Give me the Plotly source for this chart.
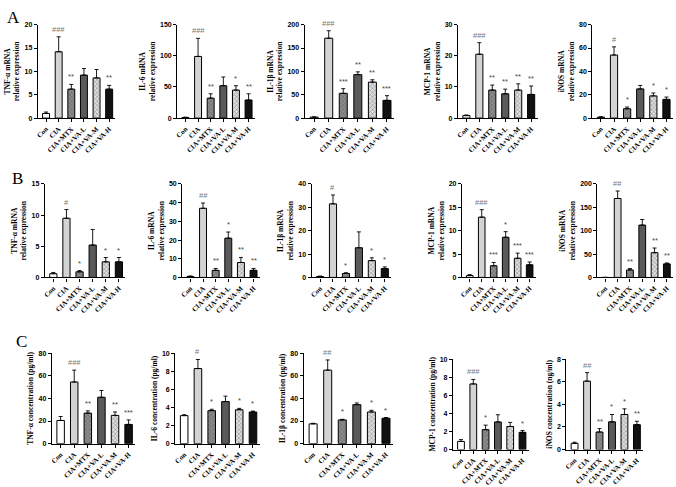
import plotly.graph_objects as go
from plotly.subplots import make_subplots

cats = ["Con", "CIA", "CIA+MTX", "CIA+VA-L", "CIA+VA-M", "CIA+VA-H"]

# Row A - mRNA (first set)
a_tnf = [1.0, 14.2, 6.2, 9.2, 8.6, 6.2]
a_tnf_sd = [0.3, 3.2, 1.0, 1.4, 1.8, 0.8]
a_tnf_sig = ["", "###", "**", "", "", "**"]

a_il6 = [1.0, 99, 32, 52, 45, 29]
a_il6_sd = [0.5, 29, 7, 14, 7, 10]
a_il6_sig = ["", "###", "**", "", "*", "**"]

a_il1b = [2, 171, 53, 93, 77, 38]
a_il1b_sd = [0.5, 16, 10, 6, 5, 10]
a_il1b_sig = ["", "###", "***", "**", "**", "***"]

a_mcp = [0.8, 20.5, 9.0, 7.8, 9.0, 7.6]
a_mcp_sd = [0.2, 3.7, 1.6, 1.5, 2.0, 2.7]
a_mcp_sig = ["", "###", "**", "**", "**", "**"]

a_inos = [0.8, 54, 8, 25, 19, 16]
a_inos_sd = [0.3, 7, 1.5, 3, 2.5, 2]
a_inos_sig = ["", "#", "*", "", "*", "*"]

# Row B - mRNA (second set)
b_tnf = [0.6, 9.5, 0.9, 5.2, 2.5, 2.5]
b_tnf_sd = [0.2, 1.4, 0.2, 2.5, 0.7, 0.7]
b_tnf_sig = ["", "#", "*", "", "*", "*"]

b_il6 = [0.5, 37, 3.8, 21, 8, 3.8]
b_il6_sd = [0.3, 2.8, 1.0, 3.3, 2.7, 1.0]
b_il6_sig = ["", "##", "**", "*", "**", "**"]

b_il1b = [0.4, 31.5, 1.7, 12.7, 7.2, 3.8]
b_il1b_sd = [0.2, 3.8, 0.3, 6.8, 1.2, 0.7]
b_il1b_sig = ["", "#", "*", "", "*", "*"]

b_mcp = [0.4, 12.9, 2.5, 8.6, 4.1, 2.7]
b_mcp_sd = [0.2, 1.6, 0.7, 1.2, 1.1, 0.6]
b_mcp_sig = ["", "###", "***", "*", "***", "***"]

b_inos = [0, 169, 16, 112, 53, 29]
b_inos_sd = [0, 16, 3, 12, 10, 2]
b_inos_sig = ["", "##", "**", "", "**", "**"]

# Row C - serum concentrations
c_tnf = [20.5, 54.5, 27, 41, 25, 17]
c_tnf_sd = [3.5, 10.5, 2, 6, 3, 4]
c_tnf_sig = ["", "###", "**", "", "**", "***"]

c_il6 = [3.1, 8.3, 3.65, 4.65, 3.75, 3.5]
c_il6_sd = [0.1, 1.0, 0.15, 0.6, 0.15, 0.1]
c_il6_sig = ["", "#", "*", "", "*", "*"]

c_il1b = [17.5, 65, 21, 34.5, 28, 22.5]
c_il1b_sd = [0.5, 9, 0.5, 1.5, 1.5, 0.6]
c_il1b_sig = ["", "##", "*", "", "*", "*"]

c_mcp = [0.9, 7.25, 2.2, 3.05, 2.55, 1.9]
c_mcp_sd = [0.2, 0.5, 0.5, 0.8, 0.45, 0.2]
c_mcp_sig = ["", "###", "*", "", "", "*"]

c_inos = [0.55, 6.05, 1.55, 2.45, 3.1, 2.2]
c_inos_sd = [0.1, 0.75, 0.3, 0.65, 0.5, 0.3]
c_inos_sig = ["", "##", "**", "*", "*", "**"]

W, H = 676, 487

# title, mean, sd, sig, y top, dtick, pixel box (x0, x1, ytop, ybottom)
panels = [
    ("TNF-α mRNA<br>relative expression", a_tnf, a_tnf_sd, a_tnf_sig, 20, 5, (35, 113, 21, 116)),
    ("IL-6 mRNA<br>relative expression", a_il6, a_il6_sd, a_il6_sig, 150, 50, (175, 253, 21, 116)),
    ("IL-1β mRNA<br>relative expression", a_il1b, a_il1b_sd, a_il1b_sig, 200, 50, (303, 393, 21, 116)),
    ("MCP-1 mRNA<br>relative expression", a_mcp, a_mcp_sd, a_mcp_sig, 30, 10, (457, 537, 21, 116)),
    ("iNOS mRNA<br>relative expression", a_inos, a_inos_sd, a_inos_sig, 80, 20, (592, 673, 21, 116)),
    ("TNF-α mRNA<br>relative expression", b_tnf, b_tnf_sd, b_tnf_sig, 15, 5, (42, 123, 183, 278)),
    ("IL-6 mRNA<br>relative expression", b_il6, b_il6_sd, b_il6_sig, 50, 10, (180, 258, 183, 278)),
    ("IL-1β mRNA<br>relative expression", b_il1b, b_il1b_sd, b_il1b_sig, 40, 10, (310, 390, 183, 278)),
    ("MCP-1 mRNA<br>relative expression", b_mcp, b_mcp_sd, b_mcp_sig, 20, 5, (461, 535, 183, 278)),
    ("iNOS mRNA<br>relative expression", b_inos, b_inos_sd, b_inos_sig, 200, 50, (597, 673, 183, 278)),
    ("TNF-α concentration (pg/ml)", c_tnf, c_tnf_sd, c_tnf_sig, 80, 20, (49, 133, 355, 447)),
    ("IL-6 concentration (pg/ml)", c_il6, c_il6_sd, c_il6_sig, 10, 2, (173, 258, 355, 447)),
    ("IL-1β concentration (pg/ml)", c_il1b, c_il1b_sd, c_il1b_sig, 80, 20, (302, 392, 355, 447)),
    ("MCP-1 concentration (pg/ml)", c_mcp, c_mcp_sd, c_mcp_sig, 10, 2, (452, 528, 361, 453)),
    ("iNOS concentration (ng/ml)", c_inos, c_inos_sd, c_inos_sig, 8, 2, (566, 643, 361, 453)),
]

bar_colors = ["#ffffff", "#d3d3d3", "#8c8c8c", "#5a5a5a", "#dedede", "#111111"]
pat_shapes = ["", "", "x", "", "x", ""]
pat_fg = ["#000", "#000", "#2e2e2e", "#000", "#8a8a8a", "#000"]

tick_font = dict(family="Liberation Sans", size=7, color="black", weight="bold")
cat_font = dict(family="Liberation Serif", size=7, color="black", weight="bold")
title_font = dict(family="Liberation Serif", size=7.5, color="black", weight="bold")

fig = make_subplots(rows=3, cols=5)

for i, (title, mean, sd, sig, ytop, dt, box) in enumerate(panels):
    r, c = i // 5 + 1, i % 5 + 1
    x0, x1, yt, yb = box
    fig.add_trace(go.Bar(
        x=cats, y=mean,
        width=0.55,
        marker=dict(
            color=bar_colors,
            line=dict(color="black", width=1),
            pattern=dict(shape=pat_shapes, fgcolor=pat_fg, size=3, solidity=0.35),
        ),
        error_y=dict(type="data", array=sd, arrayminus=[0] * 6, symmetric=False,
                     color="black", thickness=0.9, width=2),
        showlegend=False,
    ), row=r, col=c)

    n = i + 1
    xa = "xaxis" if n == 1 else f"xaxis{n}"
    ya = "yaxis" if n == 1 else f"yaxis{n}"
    fig.layout[xa].domain = [x0 / W, x1 / W]
    fig.layout[ya].domain = [1 - yb / H, 1 - yt / H]

    fig.update_xaxes(row=r, col=c, type="category", range=[-0.65, 5.5],
                     showline=True, linecolor="black", linewidth=1.2,
                     ticks="outside", ticklen=3, tickwidth=1, tickcolor="black",
                     tickangle=-45, tickfont=cat_font, showgrid=False)
    fig.update_yaxes(row=r, col=c, range=[0, ytop], dtick=dt,
                     showline=True, linecolor="black", linewidth=1.2,
                     ticks="outside", ticklen=3, tickwidth=1, tickcolor="black",
                     tickfont=tick_font, showgrid=False, zeroline=False,
                     title=dict(text=title, font=title_font, standoff=3))

    xref = "x" if n == 1 else f"x{n}"
    yref = "y" if n == 1 else f"y{n}"
    for k, s in enumerate(sig):
        if s:
            fig.add_annotation(
                x=cats[k], y=mean[k] + sd[k], xref=xref, yref=yref,
                text=s, showarrow=False, yanchor="bottom", yshift=1,
                font=dict(family="Liberation Sans", size=7.5,
                          color="#777777" if s.startswith("#") else "#444444"),
            )

for letter, lx, ly in [("A", 2, 2), ("B", 7, 166), ("C", 11, 331)]:
    fig.add_annotation(text=letter, xref="paper", yref="paper",
                       x=lx / W, y=1 - ly / H, xanchor="left", yanchor="top",
                       showarrow=False,
                       font=dict(family="Liberation Serif", size=17, color="black"))

fig.update_layout(
    width=W, height=H,
    margin=dict(l=0, r=0, t=0, b=0),
    plot_bgcolor="white", paper_bgcolor="white",
    bargap=0.45,
)

fig.write_html("out.html", config={"displayModeBar": False},
               post_script="document.body.style.margin='0';")
